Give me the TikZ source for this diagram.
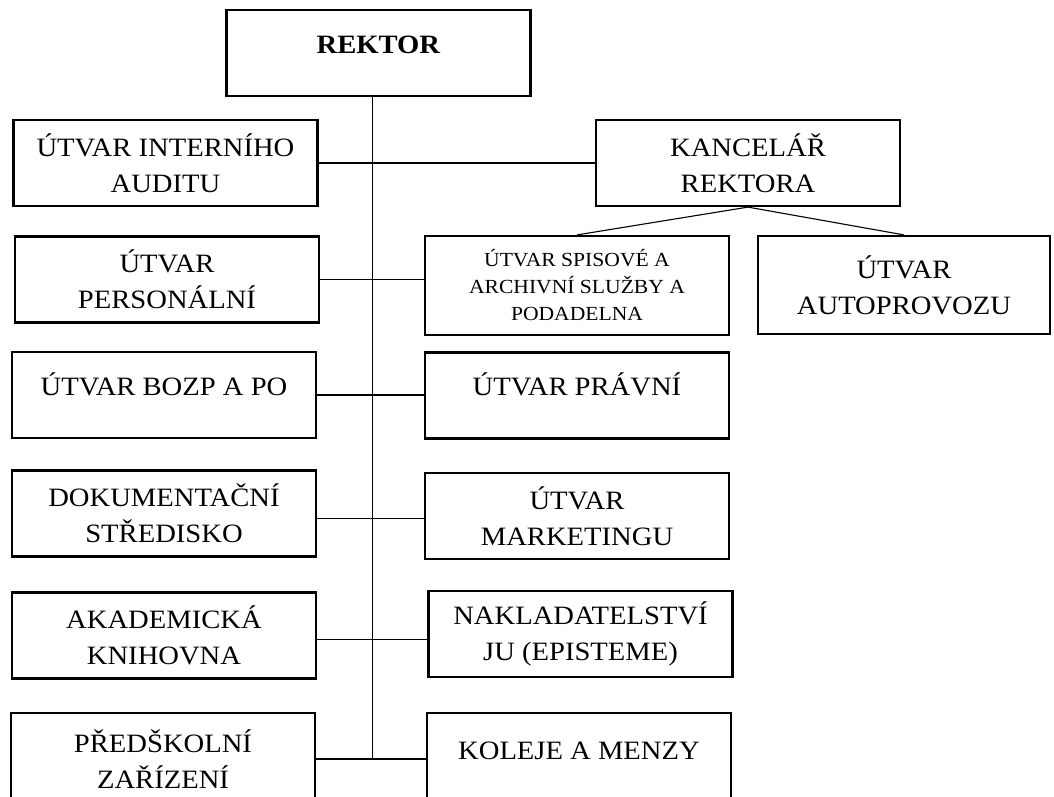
\documentclass[tikz,border=0pt]{standalone}
\usepackage{fontspec}
\setmainfont{Liberation Serif}[FakeStretch=1.08]
\usetikzlibrary{positioning}
\tikzstyle{unit}=[rectangle,draw=black,line width=2.2pt,minimum width=304pt,minimum height=86pt,inner sep=0pt,align=center,font=\fontsize{26.5}{36}\selectfont]
\tikzstyle{oneline}=[text height=20pt,text depth=20pt]
\tikzstyle{small}=[font=\fontsize{20}{27}\selectfont]
\tikzstyle{link}=[draw=black,line width=1.1pt]

\begin{document}
\begin{tikzpicture}[x=1pt,y=-1pt]
	\useasboundingbox (0,0) rectangle (1054,796);
	\clip (0,0) rectangle (1054,796);
	% top
	\node [unit,oneline] (rektor) at (378.5,53)   {\textbf{REKTOR}};
	\node [unit] (kancelar) at (748,163)           {KANCELÁŘ\\REKTORA};
	\node [unit,small,minimum height=99pt] (spisovna) at (577,285.5) {ÚTVAR SPISOVÉ A\\ARCHIVNÍ SLUŽBY A\\PODADELNA};
	\node [unit,minimum width=292pt,minimum height=98pt] (autoprovoz) at (904,285) {ÚTVAR\\AUTOPROVOZU};
	% left column
	\node [unit] (audit)    at (165.5,163)  {ÚTVAR INTERNÍHO\\AUDITU};
	\node [unit] (personal) at (167,279.5)  {ÚTVAR\\PERSONÁLNÍ};
	\node [unit,oneline] (bozp) at (164,395) {ÚTVAR BOZP A PO};
	\node [unit] (dokument) at (164,513.5)  {DOKUMENTAČNÍ\\STŘEDISKO};
	\node [unit] (knihovna) at (164,635.5)  {AKADEMICKÁ\\KNIHOVNA};
	\node [unit,minimum height=92pt] (predskolni) at (163,759) {PŘEDŠKOLNÍ\\ZAŘÍZENÍ};
	% right column
	\node [unit,oneline] (pravni) at (577,395.5) {ÚTVAR PRÁVNÍ};
	\node [unit] (marketing) at (577,516)    {ÚTVAR\\MARKETINGU};
	\node [unit] (episteme)  at (580.5,634)  {NAKLADATELSTVÍ\\JU (EPISTEME)};
	\node [unit,oneline,minimum height=92pt] (koleje) at (579,759) {KOLEJE A MENZY};

	% spine
	\draw [link] ([xshift=-6pt]rektor.south) -- ([xshift=-6pt]rektor.south |- predskolni.east);
	% branches
	\draw [link] (audit.east) -- (audit.east -| kancelar.west);
	\draw [link] (personal.east) -- (personal.east -| spisovna.west);
	\draw [link] (bozp.east) -- (bozp.east -| pravni.west);
	\draw [link] ([yshift=-5pt]dokument.east) -- ([yshift=-5pt]dokument.east -| marketing.west);
	\draw [link] ([yshift=-4pt]knihovna.east) -- ([yshift=-4pt]knihovna.east -| episteme.west);
	\draw [link] (predskolni.east) -- (predskolni.east -| koleje.west);
	\path [link] (kancelar.south) edge (spisovna.north)
	             (kancelar.south) edge (autoprovoz.north);
\end{tikzpicture}
\end{document}
